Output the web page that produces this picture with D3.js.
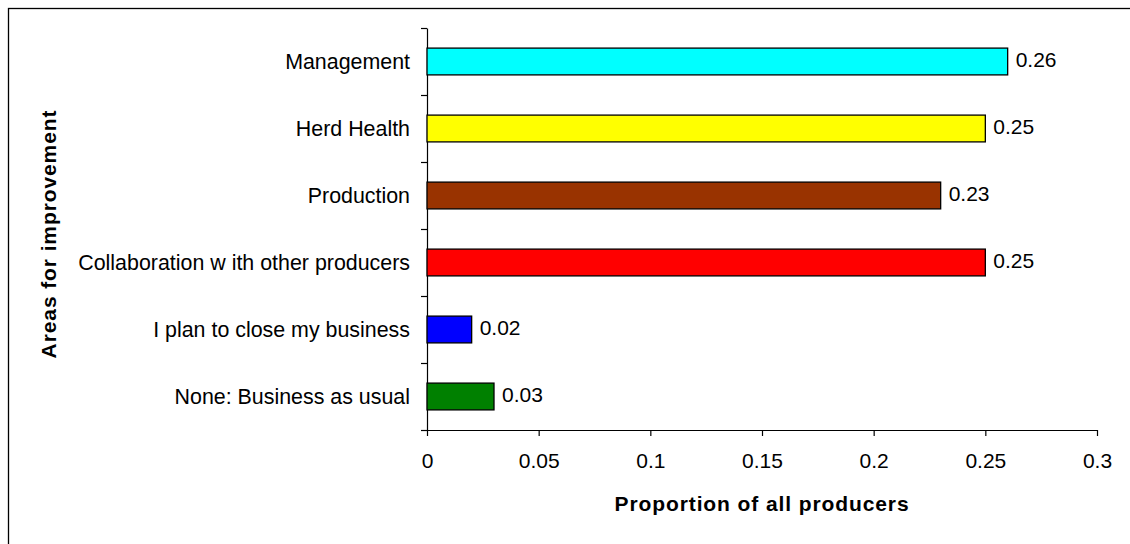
<!DOCTYPE html>
<html>
<head>
<meta charset="utf-8">
<script src="https://cdn.jsdelivr.net/npm/d3@7"></script>
<style>
  body { margin: 0; background: #fff; }
  svg { display: block; font-family: Arial, "Liberation Sans", sans-serif; }
</style>
</head>
<body>
<svg id="chart"></svg>
<script>
var width = 1130;
var height = 544;

// data, top to bottom
var categories = ['Management', 'Herd Health', 'Production',
  'Collaboration w ith other producers', 'I plan to close my business',
  'None: Business as usual'];
var values = [0.26, 0.25, 0.23, 0.25, 0.02, 0.03];
var valueLabels = ['0.26', '0.25', '0.23', '0.25', '0.02', '0.03'];
var barColors = ['#00FFFF', '#FFFF00', '#993300', '#FF0000', '#0000FF', '#008000'];
var xTicks = [0, 0.05, 0.1, 0.15, 0.2, 0.25, 0.3];
var xTickLabels = ['0', '0.05', '0.1', '0.15', '0.2', '0.25', '0.3'];

var plotLeft = 427, plotRight = 1097, plotTop = 28, plotBottom = 430;

var svg = d3.select('#chart')
  .attr('width', width)
  .attr('height', height);

// outer frame (right/bottom edges fall outside the picture)
svg.append('rect')
  .attr('x', 8.5).attr('y', 8.5)
  .attr('width', width).attr('height', height)
  .attr('fill', 'none')
  .attr('stroke', '#000')
  .attr('stroke-width', 1.3);

var x = d3.scaleLinear()
  .domain([0, 0.3])
  .range([plotLeft, plotRight]);

var y = d3.scaleBand()
  .domain(categories)
  .range([plotTop, plotBottom])
  .paddingInner(0.6)
  .paddingOuter(0.3);

// band boundaries for the category tick marks
var yEdge = d3.scaleLinear()
  .domain([0, categories.length])
  .range([plotTop, plotBottom]);

var xAxis = d3.axisBottom(x)
  .tickValues(xTicks)
  .tickFormat(function(d, i) { return xTickLabels[i]; })
  .tickSizeInner(6)
  .tickSizeOuter(0)
  .tickPadding(17);

var gx = svg.append('g')
  .attr('transform', 'translate(0,' + plotBottom + ')')
  .call(xAxis);
gx.selectAll('text')
  .attr('font-size', 21)
  .attr('fill', '#000')
  .attr('font-family', 'Arial, "Liberation Sans", sans-serif');

var yAxis = d3.axisLeft(yEdge)
  .tickValues(d3.range(categories.length + 1))
  .tickFormat('')
  .tickSizeInner(6)
  .tickSizeOuter(0);

svg.append('g')
  .attr('transform', 'translate(' + plotLeft + ',0)')
  .call(yAxis);

svg.selectAll('.domain, .tick line')
  .attr('stroke', '#000')
  .attr('stroke-width', 1.2);

// category labels
svg.append('g').selectAll('text')
  .data(categories)
  .join('text')
  .attr('x', 410)
  .attr('y', function(d) { return y(d) + y.bandwidth() / 2 + 7; })
  .attr('text-anchor', 'end')
  .attr('font-size', 21.4)
  .attr('fill', '#000')
  .text(function(d) { return d; });

// bars
svg.append('g').selectAll('rect')
  .data(values)
  .join('rect')
  .attr('x', x(0))
  .attr('y', function(d, i) { return y(categories[i]); })
  .attr('width', function(d) { return x(d) - x(0); })
  .attr('height', y.bandwidth())
  .attr('fill', function(d, i) { return barColors[i]; })
  .attr('stroke', '#000')
  .attr('stroke-width', 1.3);

// value labels
svg.append('g').selectAll('text')
  .data(values)
  .join('text')
  .attr('x', function(d) { return x(d) + 8; })
  .attr('y', function(d, i) { return y(categories[i]) + y.bandwidth() / 2 + 5; })
  .attr('font-size', 21)
  .attr('fill', '#000')
  .text(function(d, i) { return valueLabels[i]; });

// axis titles
svg.append('text')
  .attr('x', (plotLeft + plotRight) / 2)
  .attr('y', 511)
  .attr('text-anchor', 'middle')
  .attr('font-size', 21)
  .attr('font-weight', 'bold')
  .attr('letter-spacing', 0.9)
  .text('Proportion of all producers');

svg.append('text')
  .attr('transform', 'translate(56,234) rotate(-90)')
  .attr('text-anchor', 'middle')
  .attr('font-size', 21)
  .attr('font-weight', 'bold')
  .attr('letter-spacing', 0.9)
  .text('Areas for improvement');
</script>
</body>
</html>
